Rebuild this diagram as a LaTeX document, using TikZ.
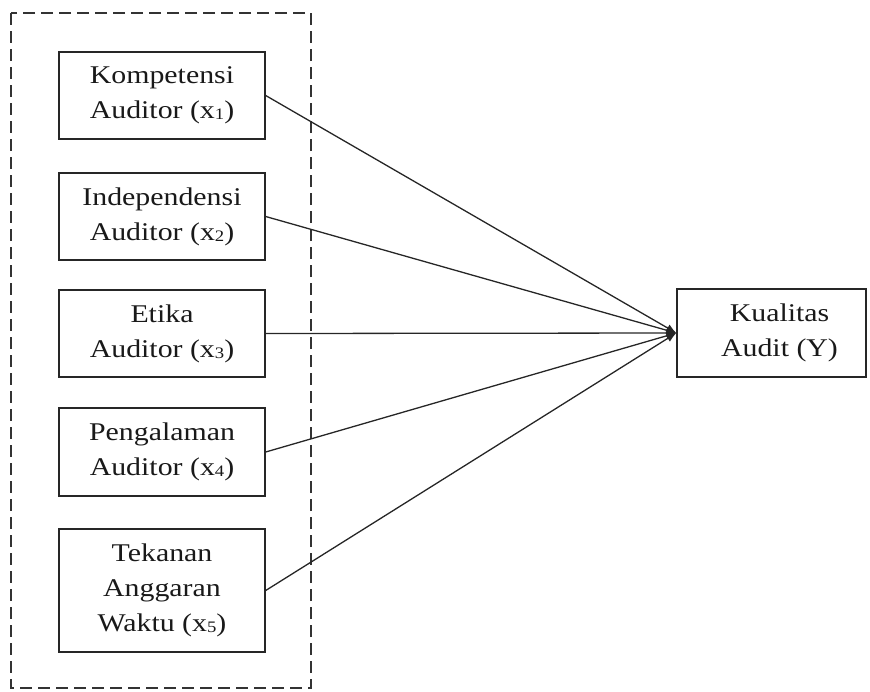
\documentclass[tikz,border=0pt]{standalone}
\usepackage{fontspec}
\setmainfont{Liberation Serif}[FakeStretch=1.17]
\usetikzlibrary{arrows.meta}
\newcommand{\sbx}[1]{\raisebox{-0.1ex}{\fontsize{16}{16}\selectfont #1}}
\begin{document}
\begin{tikzpicture}[x=1pt,y=-1pt,
  vbox/.style={draw=black!85, line width=1.4pt, fill=white, align=center,
    minimum width=206pt, inner sep=0pt, text=black!90,
    font=\fontsize{25.5}{35}\selectfont},
  link/.style={line width=1.3pt, draw=black!85, -{Latex[length=10pt,width=8pt]}}]
\useasboundingbox (0,0) rectangle (870,691);
\draw[black!80, line width=1.3pt, dash pattern=on 12pt off 6pt] (11,13) rectangle (311,688);
\node[vbox, minimum height=87pt] (b1) at (162,95.5) {Kompetensi\\Auditor (x\sbx{1})};
\node[vbox, minimum height=87pt] (b2) at (162,216.5) {Independensi\\Auditor (x\sbx{2})};
\node[vbox, minimum height=87pt] (b3) at (162,333.5) {Etika\\Auditor (x\sbx{3})};
\node[vbox, minimum height=88pt] (b4) at (162,452) {Pengalaman\\Auditor (x\sbx{4})};
\node[vbox, minimum height=123pt] (b5) at (162,590.5) {Tekanan\\Anggaran\\Waktu (x\sbx{5})};
\node[vbox, minimum width=189pt, minimum height=88pt] (y) at (771.5,333) {\hspace*{16pt}Kualitas\\\hspace*{16pt}Audit (Y)};
\foreach \b in {b1,b2,b3,b4,b5} \draw[link] (\b.east) -- (y.west);
\end{tikzpicture}
\end{document}
